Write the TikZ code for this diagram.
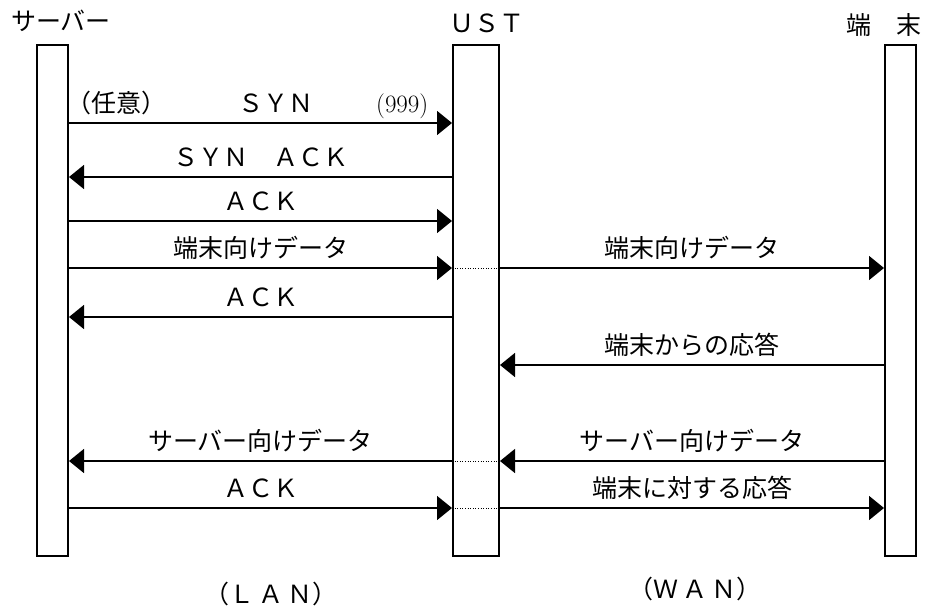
\documentclass[tikz,border=0pt]{standalone}
\usepackage{fontspec}
\newfontfamily\jp{Noto Sans CJK JP}
\usetikzlibrary{arrows.meta}

\begin{document}
\begin{tikzpicture}[x=1pt,y=-1pt,
    font=\jp\fontsize{25}{30}\selectfont,
    bar/.style={draw,line width=2.4pt,minimum height=510.6pt,inner sep=0pt},
    msg/.style={line width=1.5pt,-{Triangle[length=15pt,width=24pt]}},
    thru/.style={dotted,line width=0.6pt},
    lbl/.style={above=6.5pt,inner sep=0pt,text height=22pt,text depth=3pt},
    serif/.style={font=\fontsize{25}{30}\selectfont}]
  \useasboundingbox (0,0) rectangle (928,613);
  % lifelines
  \node[bar,minimum width=30.6pt] (srv) at (52.5,300.5) {};
  \node[bar,minimum width=45.6pt] (ust) at (476,300.5) {};
  \node[bar,minimum width=30.6pt] (term) at (900.5,300.5) {};
  \node at (61,21) {サーバー};
  \node at (487,23) {ＵＳＴ};
  \node at (884,25) {端　末};
  \node at (271,594) {（Ｌ\,Ａ\,Ｎ）};
  \node at (695,589) {（Ｗ\,Ａ\,Ｎ）};
  % message rows
  \foreach \r/\y in {1/123,2/177,3/221,4/268,5/317,6/365,7/461,8/508}
    \coordinate (r\r) at (0,\y);
  \path[msg]
    (srv.east |- r1) edge node[lbl,pos=0.125] {（任意）}
                          node[lbl,pos=0.54] {ＳＹＮ}
                          node[lbl,serif,pos=0.87] {(999)} (ust.west |- r1)
    (ust.west |- r2) edge node[lbl] {ＳＹＮ　ＡＣＫ} (srv.east |- r2)
    (srv.east |- r3) edge node[lbl] {ＡＣＫ} (ust.west |- r3)
    (srv.east |- r4) edge node[lbl] {端末向けデータ} (ust.west |- r4)
    (ust.east |- r4) edge node[lbl] {端末向けデータ} (term.west |- r4)
    (ust.west |- r5) edge node[lbl] {ＡＣＫ} (srv.east |- r5)
    (term.west |- r6) edge node[lbl] {端末からの応答} (ust.east |- r6)
    (term.west |- r7) edge node[lbl] {サーバー向けデータ} (ust.east |- r7)
    (ust.west |- r7) edge node[lbl] {サーバー向けデータ} (srv.east |- r7)
    (srv.east |- r8) edge node[lbl] {ＡＣＫ} (ust.west |- r8)
    (ust.east |- r8) edge node[lbl] {端末に対する応答} (term.west |- r8);
  \path[thru]
    (ust.west |- r4) edge (ust.east |- r4)
    (ust.west |- r7) edge (ust.east |- r7)
    (ust.west |- r8) edge (ust.east |- r8);
\end{tikzpicture}
\end{document}
